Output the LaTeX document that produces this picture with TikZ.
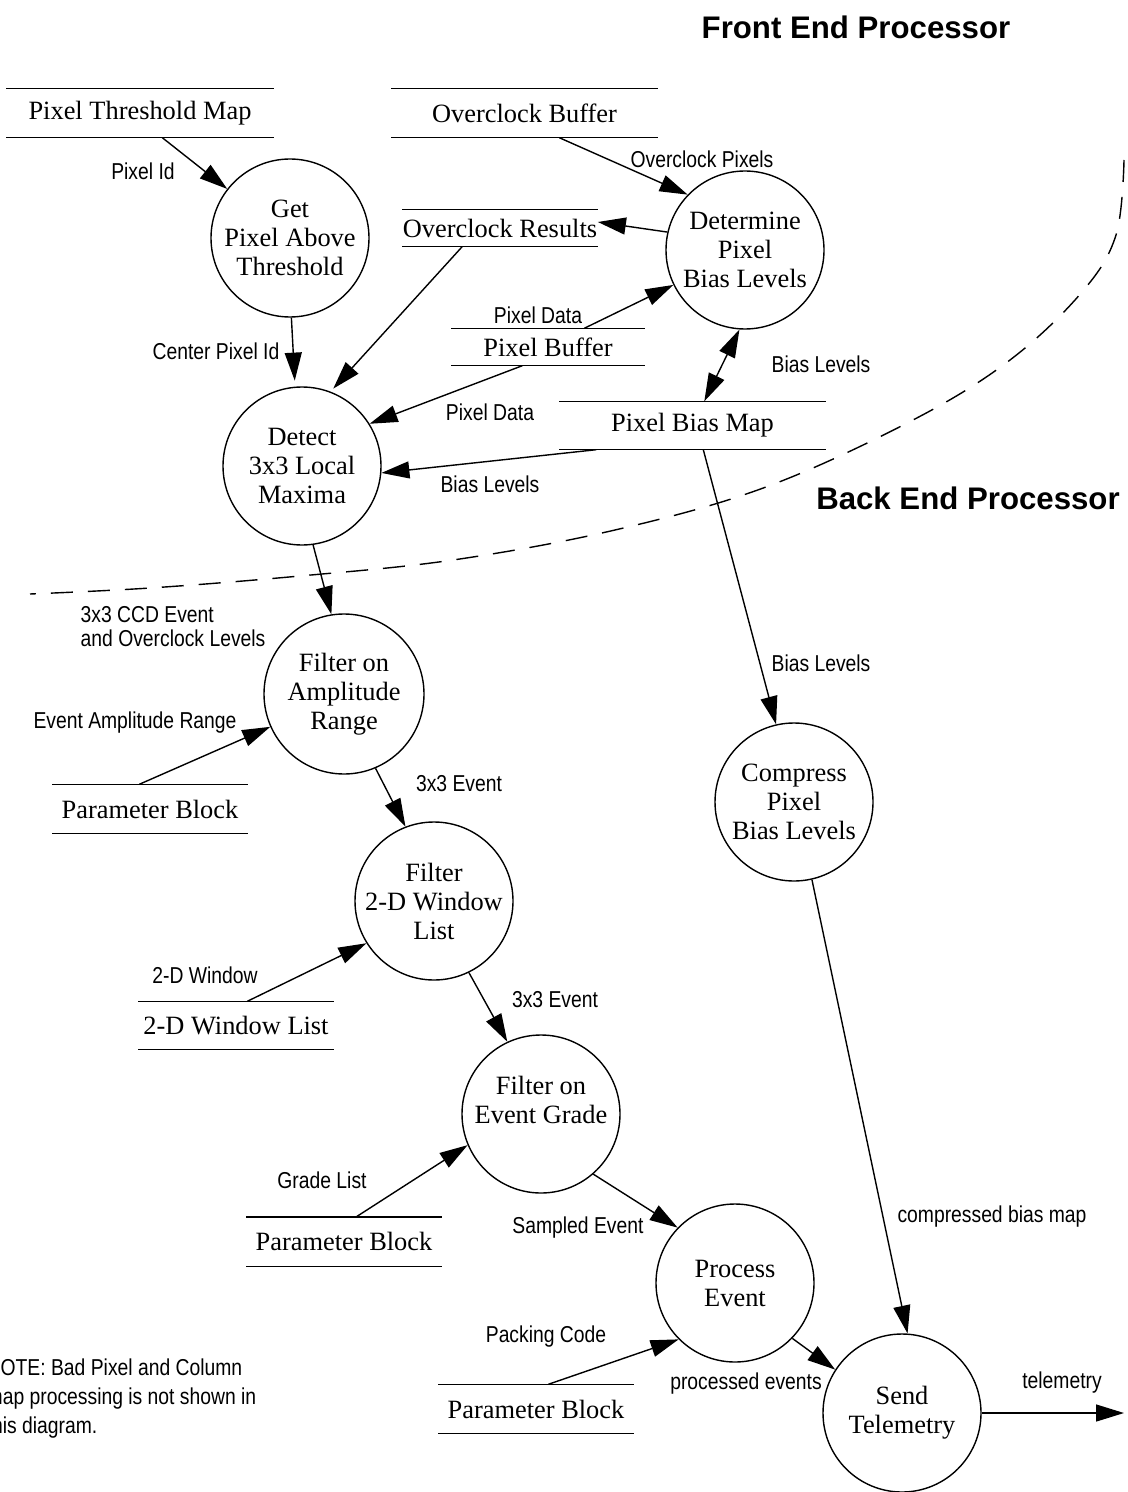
\documentclass[tikz,border=0pt]{standalone}
\usepackage{fontspec}
\setmainfont{Liberation Serif}
\newfontfamily\lblfont[FakeStretch=0.84]{Liberation Sans}
\newfontfamily\ttlfont{Liberation Sans}
\usetikzlibrary{arrows.meta}

\begin{document}
\begin{tikzpicture}[
    x=0.5pt, y=-0.5pt,
    line width=0.7pt,
    >={Triangle[length=14pt,width=8.5pt]},
    proc/.style={draw,circle,minimum size=79pt,inner sep=-4pt,align=center,
      font=\fontsize{13.2}{14.5}\selectfont},
    store/.style={inner sep=0pt,minimum height=24pt,
      font=\fontsize{13.2}{14.5}\selectfont},
    flow/.style={->},
    lbl/.style={inner sep=0pt,font=\lblfont\fontsize{11.5}{12}\selectfont},
    ttl/.style={inner sep=0pt,font=\ttlfont\bfseries\fontsize{15.6}{18}\selectfont}
  ]
  \useasboundingbox (0,0) rectangle (1128,1492);

  % processes
  \node[proc] (get) at (290,238) {Get\\Pixel Above\\Threshold};
  \node[proc] (dpb) at (745,250) {Determine\\Pixel\\Bias Levels};
  \node[proc] (det) at (302,466) {Detect\\3x3 Local\\Maxima};
  \node[proc,minimum size=80pt] (fa) at (344,694) {Filter on\\Amplitude\\Range};
  \node[proc] (fw) at (434,901) {Filter\\2-D Window\\List};
  \node[proc] (feg) at (541,1114) {Filter on\\Event Grade\\~};
  \node[proc] (cpb) at (794,802) {Compress\\Pixel\\Bias Levels};
  \node[proc] (pe) at (735,1283) {Process\\Event};
  \node[proc] (st) at (902,1413) {Send\\Telemetry};
  \coordinate (out) at (1124,1413);

  % stores
  \node[store,minimum width=133pt] (ptm) at (140,113) {Pixel Threshold Map};
  \node[store,minimum width=132.5pt] (ocb) at (524.5,113) {Overclock Buffer};
  \node[store,minimum width=97pt,minimum height=18pt] (ocr) at (500,228) {Overclock Results};
  \node[store,minimum width=96pt,minimum height=18pt] (pbuf) at (548,347) {Pixel Buffer};
  \node[store,minimum width=132.5pt,minimum height=23.5pt] (pbm) at (692.5,425.5) {Pixel Bias Map};
  \node[store,minimum width=97pt] (pb1) at (150,809) {Parameter Block};
  \node[store,minimum width=97pt,minimum height=23.5pt] (wl) at (236,1025.5) {2-D Window List};
  \node[store,minimum width=97pt] (pb2) at (344,1241.5) {Parameter Block};
  \node[store,minimum width=97pt] (pb3) at (536,1409) {Parameter Block};
  \foreach \s in {ptm,ocb,ocr,pbuf,pbm,pb1,wl,pb2,pb3}
    \draw (\s.north west) -- (\s.north east) (\s.south west) -- (\s.south east);

  % flows
  \draw[flow] ([xshift=78pt]ptm.south west) -- (get.142);
  \draw[flow,shorten >=3pt] (get.-89) -- (det.95);
  \draw[flow,shorten >=2pt] ([xshift=30pt]ocr.south west) -- (det.69);
  \draw[flow] ([xshift=35.5pt]pbuf.south west) -- (det.32);
  \draw[flow] ([xshift=18.5pt]pbm.south west) -- (det.-5);
  \draw[flow] ([xshift=84pt]ocb.south west) -- (dpb.136);
  \draw[flow] (dpb.167) -- ([yshift=3pt]ocr.east);
  \draw[flow] ([xshift=66.5pt]pbuf.north west) -- (dpb.206);
  \draw[<->] (dpb.-94) -- ([xshift=72.5pt]pbm.north west);
  \draw[flow] ([xshift=72pt]pbm.south west) -- (cpb.103);
  \draw[flow] (det.-82) -- (fa.99);
  \draw[flow] ([xshift=43.5pt]pb1.north west) -- (fa.204);
  \draw[flow] (fa.-67) -- (fw.111);
  \draw[flow] ([xshift=54.5pt]wl.north west) -- (fw.212);
  \draw[flow] (fw.-64) -- (feg.115);
  \draw[flow] ([xshift=55pt]pb2.north west) -- (feg.203);
  \draw[flow] (feg.-49) -- (pe.136);
  \draw[flow] ([xshift=55pt]pb3.north west) -- (pe.225);
  \draw[flow] (pe.-44) -- (st.147);
  \draw[flow] (cpb.-77) -- (st.86);
  \draw[flow] (st.east) -- (out);

  % flow labels
  \node[lbl] (l1) at (143,171) {Pixel Id};
  \node[lbl] (l2) at (216,351) {Center Pixel Id};
  \node[lbl] (l3) at (702,159) {Overclock Pixels};
  \node[lbl] (l4) at (538,315) {Pixel Data};
  \node[lbl] (l5) at (821,364) {Bias Levels};
  \node[lbl] (l6) at (490,412) {Pixel Data};
  \node[lbl] (l7) at (490,484) {Bias Levels};
  \node[lbl] (l8) at (821,663) {Bias Levels};
  \node[lbl,anchor=west,align=left] (l9) at (80,627) {3x3 CCD Event\\and Overclock Levels};
  \node[lbl] (l10) at (135,723) {Event Amplitude Range};
  \node[lbl] (l11) at (459,784) {3x3 Event};
  \node[lbl] (l12) at (205,975) {2-D Window};
  \node[lbl] (l13) at (555,1000) {3x3 Event};
  \node[lbl] (l14) at (322,1180) {Grade List};
  \node[lbl] (l15) at (578,1228) {Sampled Event};
  \node[lbl] (l16) at (992,1217) {compressed bias map};
  \node[lbl] (l17) at (546,1337) {Packing Code};
  \node[lbl] (l18) at (746,1384) {processed events};
  \node[lbl] (l19) at (1062,1383) {telemetry};

  % boundary
  \draw[dash pattern=on 11pt off 7.5pt] plot[smooth,tension=0.6] coordinates {
    (1124,160) (1116,235) (1082,292) (1010,360) (913,420) (766,487)
    (615,530) (453,560) (300,576) (150,588) (30,594)};
  \node[ttl] (fep) at (856,27) {Front End Processor};
  \node[ttl] (bep) at (968,498) {Back End Processor};

  \node[lbl,anchor=west,align=left,font=\lblfont\fontsize{11.5}{14.5}\selectfont] (note) at (-14,1399)
    {NOTE: Bad Pixel and Column\\map processing is not shown in\\this diagram.};
\end{tikzpicture}
\end{document}
